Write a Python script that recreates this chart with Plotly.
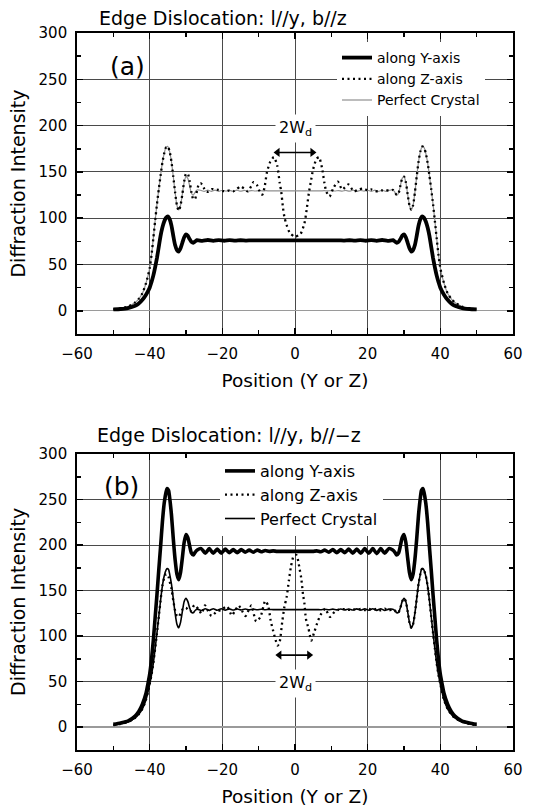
import plotly.graph_objects as go

W, H = 548, 810
FONT = "DejaVu Sans"

# ---------------- Panel (a): l//y, b//z ----------------
a_along_y_x = [-50, -48, -46, -44, -43, -42, -41, -40, -39.5, -39, -38.5, -38, -37.5, -37, -36.5, -36, -35.5, -35,
               -34.5, -34, -33.5, -33, -32.5, -32, -31.5, -31, -30.5, -30, -29.5, -29, -28.5, -28, -27.5, -27,
               -25.5, -24, -22.5, -21, -19.5, -18, -16.5, -15, -13.5, -12, -10, -5, 0, 5, 10, 12, 13.5, 15, 16.5,
               18, 19.5, 21, 22.5, 24, 25.5, 27, 27.5, 28, 28.5, 29, 29.5, 30, 30.5, 31, 31.5, 32, 32.5, 33, 33.5,
               34, 34.5, 35, 35.5, 36, 36.5, 37, 37.5, 38, 38.5, 39, 39.5, 40, 41, 42, 43, 44, 46, 48, 50]
a_along_y = [1.5, 2, 3, 5.5, 8, 12, 17.5, 25, 31, 38, 47, 57, 69, 81, 90, 96.5, 100.5, 102,
             99, 92, 81, 71, 65.5, 64, 67.5, 73.5, 79.5, 82.5, 81, 77.5, 74.5, 73.5, 74.8, 76.3,
             75.5, 76.5, 75.6, 76.4, 75.7, 76.3, 75.8, 76.2, 75.9, 76.1, 76, 76, 76, 76, 76, 76.1, 75.9, 76.2, 75.8,
             76.3, 75.7, 76.4, 75.6, 76.5, 75.5, 76.3, 74.8, 73.5, 74.5, 77.5, 81, 82.5, 79.5, 73.5, 67.5, 64, 65.5, 71, 81,
             92, 99, 102, 100.5, 96.5, 90, 81, 69, 57, 47, 38, 31, 25, 17.5, 12, 8, 5.5, 3, 2, 1.5]

a_along_z_x = [-50, -48, -46, -44, -43, -42, -41, -40, -39.5, -39, -38.5, -38, -37.5, -37, -36.5, -36, -35.5, -35,
               -34.5, -34, -33.5, -33, -32.5, -32, -31.5, -31, -30.5, -30, -29.5, -29, -28.5, -28, -27.5, -27,
               -26.5, -26, -25.5, -25, -24.5, -24, -23, -22, -21, -20, -19, -18, -17, -16, -15, -14, -13, -12,
               -11.4, -10.5, -9.5, -9, -8.4, -7.7, -6.8, -5.8, -4.9, -4.2, -3.8, -3.3, -2.9, -2.3, -1.4, 0, 1.5,
               2.6, 3.2, 3.8, 4.3, 5, 5.9, 6.6, 7.4, 8.1, 8.6, 9.5, 10.6, 11.8, 13, 14.7, 16.2, 17.5, 18.8, 20, 21,
               22, 23, 24, 25, 26, 27, 27.5, 28, 28.5, 29, 29.5, 30, 30.5, 31, 31.5, 32, 32.5, 33, 33.5, 34, 34.5,
               35, 35.5, 36, 36.5, 37, 37.5, 38, 38.5, 39, 39.5, 40, 41, 42, 43, 44, 46, 48, 50]
a_along_z = [1.5, 2.5, 4.5, 9, 13, 19, 30, 46, 60, 78, 97, 115, 131, 146, 160, 170, 176.5, 177.5,
             172, 161, 145, 128, 114, 108, 114, 126, 140, 148, 148, 140, 128, 120.5, 121, 129,
             136.5, 138, 136, 132, 129, 128.5, 131.5, 131, 130.5, 129.5, 129, 130, 129, 131.5, 134.5, 132, 129, 135,
             139, 136, 127, 125.5, 133, 150, 161, 166, 157, 138, 129, 111, 101, 92.5, 84, 80, 83,
             94.5, 109, 127, 138, 153, 164, 166, 155, 138, 129, 123.5, 133, 139.5, 131, 136.5, 129, 131, 132, 130, 131,
             129.5, 129, 130, 130.5, 129.5, 130.5, 128, 125, 127, 135, 143, 145, 139, 126, 114, 109, 114, 128, 145, 161, 172,
             177.5, 176.5, 170, 160, 146, 131, 115, 97, 78, 60, 46, 30, 19, 13, 9, 4.5, 2.5, 1.5]

a_perfect_x = [-50, -48, -46, -44, -43, -42, -41, -40, -39.5, -39, -38.5, -38, -37.5, -37, -36.5, -36, -35.5, -35,
               -34.5, -34, -33.5, -33, -32.5, -32, -31.5, -31, -30.5, -30, -29.5, -29, -28.5, -28, -27.5, -27,
               -26, -25, -24, -23, -22, -21, -20, -19, -18, -17, -16, -15, -14, -13, -12, -11, -10, -9, -8, -7, -6,
               0, 6, 7, 8, 9, 10, 11, 12, 13, 14, 15, 16, 17, 18, 19, 20, 21, 22, 23, 24, 25, 26,
               27, 27.5, 28, 28.5, 29, 29.5, 30, 30.5, 31, 31.5, 32, 32.5, 33, 33.5, 34, 34.5, 35, 35.5, 36, 36.5,
               37, 37.5, 38, 38.5, 39, 39.5, 40, 41, 42, 43, 44, 46, 48, 50]
a_perfect = [1.5, 2.5, 4.5, 9, 13, 19, 30, 46, 60, 78, 97, 115, 131, 146, 160, 170, 176.5, 177.5,
             172, 161, 145, 128, 114, 109, 114, 126, 139, 145, 143, 135, 127, 125, 128, 130.5,
             130.2, 129, 130.4, 129.1, 130.3, 129, 130.2, 129.2, 130.1, 129.1, 130.3, 129.2, 130, 129.3, 129.9, 129.4,
             129.8, 129.5, 129.7, 129.5, 129.6,
             129.6, 129.6, 129.5, 129.7, 129.5, 129.8, 129.4, 129.9, 129.3, 130, 129.2, 130.3, 129.1, 130.1, 129.2, 130.2,
             129, 130.3, 129.1, 130.4, 129, 130.2,
             130.5, 128, 125, 127, 135, 143, 145, 139, 126, 114, 109, 114, 128, 145, 161, 172, 177.5, 176.5, 170, 160,
             146, 131, 115, 97, 78, 60, 46, 30, 19, 13, 9, 4.5, 2.5, 1.5]

# ---------------- Panel (b): l//y, b//-z ----------------
b_along_y_x = [-50, -48, -46, -44, -43, -42, -41, -40.5, -40, -39.5, -39, -38.5, -38, -37.5, -37, -36.5, -36, -35.5,
               -35.2, -34.8, -34.5, -34, -33.5, -33, -32.5, -32, -31.5, -31, -30.5, -30, -29.5, -29, -28.5, -28,
               -27.5, -26.9, -25.8, -24.7, -23.6, -22.5, -21.4, -20.3, -19.2, -18.1, -17, -15.9, -14.8, -13.7,
               -12.6, -11.5, -10.4, -9.3, -8.2, -7.1, -6, -4.9, 0, 4.9, 6, 7.1, 8.2, 9.3, 10.4, 11.5, 12.6, 13.7,
               14.8, 15.9, 17, 18.1, 19.2, 20.3, 21.4, 22.5, 23.6, 24.7, 25.8, 26.9, 27.5, 28, 28.5, 29, 29.5, 30,
               30.5, 31, 31.5, 32, 32.5, 33, 33.5, 34, 34.5, 34.8, 35.2, 35.5, 36, 36.5, 37, 37.5, 38, 38.5, 39,
               39.5, 40, 40.5, 41, 42, 43, 44, 46, 48, 50]
b_along_y = [3, 4.5, 6.5, 12, 17, 25, 37, 47, 58, 74, 95, 120, 145, 172, 198, 225, 246, 258,
             262, 260, 252, 233, 207, 184, 168, 162, 170, 186, 203, 211.5, 208, 199, 191, 189,
             192, 194.5, 196, 191, 196, 191, 195.5, 191, 195.5, 191.5, 195, 191.5, 195, 192,
             194.5, 192, 194.5, 192.5, 194, 193, 193.5, 193, 193, 193, 193.5, 192.5, 194.5, 192, 195, 191.5, 195, 191.5,
             195.5, 191, 195.5, 191, 196, 191, 196, 190.5, 196, 191, 196, 194.5, 192, 189, 191, 199, 208, 211.5,
             203, 186, 170, 162, 168, 184, 207, 233, 252, 260, 262, 258, 246, 225, 198, 172, 145, 120, 95,
             74, 58, 47, 37, 25, 17, 12, 6.5, 4.5, 3]

b_perfect_x = [-50, -48, -46, -44, -43, -42, -41, -40.5, -40, -39.5, -39, -38.5, -38, -37.5, -37, -36.5, -36, -35.5,
               -35.2, -34.8, -34.5, -34, -33.5, -33, -32.5, -32, -31.5, -31, -30.5, -30, -29.5, -29, -28.5, -28,
               -27.5, -26.9, -25.8, -24.7, -23.6, -22.5, -21.4, -20.3, -19.2, -18.1, -17, -15.9, -14.8, -13.7,
               -12.6, -11.5, -10.4, -9.3, -8.2, -7.1, -6, 0, 6, 7.1, 8.2, 9.3, 10.4, 11.5, 12.6, 13.7,
               14.8, 15.9, 17, 18.1, 19.2, 20.3, 21.4, 22.5, 23.6, 24.7, 25.8, 26.9, 27.5, 28, 28.5, 29, 29.5, 30,
               30.5, 31, 31.5, 32, 32.5, 33, 33.5, 34, 34.5, 34.8, 35.2, 35.5, 36, 36.5, 37, 37.5, 38, 38.5, 39,
               39.5, 40, 40.5, 41, 42, 43, 44, 46, 48, 50]
b_perfect = [2, 3.5, 5.5, 10, 14, 20, 30, 38, 47, 57, 70, 86, 103, 121, 139, 155, 166, 172.5,
             174, 173, 168, 157, 141, 125, 113, 109, 115, 127, 138, 141.5, 138, 131, 126, 125.5,
             128, 129.5, 128, 130, 128.2, 130, 128.3, 129.9, 128.4, 129.8, 128.5, 129.7, 128.6, 129.6,
             128.7, 129.5, 128.8, 129.4, 128.9, 129.2, 129, 129, 129, 128.9, 129.4, 128.8, 129.5, 128.7, 129.6, 128.6,
             129.7, 128.5, 129.8, 128.4, 129.9, 128.3, 130, 128.2, 130, 128, 129.5, 129.5, 128, 125.5, 126, 131, 138, 141.5,
             138, 127, 115, 109, 113, 125, 141, 157, 168, 173, 174, 172.5, 166, 155, 139, 121, 103, 86, 70,
             57, 47, 38, 30, 20, 14, 10, 5.5, 3.5, 2]

b_along_z_x = [-50, -48, -46, -44, -43, -42, -41, -40.5, -40, -39.5, -39, -38.5, -38, -37.5, -37, -36.5, -36, -35.5,
               -35.2, -34.8, -34.5, -34, -33.5, -33, -32.5, -32, -31.5, -31, -30.5, -30, -29.5, -29, -28.5, -27.7,
               -26.5, -25.7, -24.8, -24, -23, -21.5, -20.4, -18.7, -17.4, -16.5, -15.5, -14.5, -13.6, -12.8, -12,
               -10.7, -9.5, -8.2, -7.4, -6.7, -6.1, -5.5, -4.8, -4.3, -3.5, -2.9, -2.3, -1.7, -1.1, -0.4, 0.4, 0.9,
               1.3, 1.7, 2.2, 2.6, 3, 3.7, 4.5, 5.2, 6.1, 7, 8.3, 9.6, 10.9, 12, 13.7, 14.8, 15.9, 17, 18.1, 19.2,
               20.3, 21.4, 22.5, 23.6, 24.7, 25.8, 26.9, 27.5, 28, 28.5, 29, 29.5, 30, 30.5, 31, 31.5, 32, 32.5,
               33, 33.5, 34, 34.5, 34.8, 35.2, 35.5, 36, 36.5, 37, 37.5, 38, 38.5, 39, 39.5, 40, 40.5, 41, 42, 43,
               44, 46, 48, 50]
b_along_z = [2, 3.5, 5.5, 10, 14, 20, 30, 38, 47, 57, 70, 86, 103, 121, 139, 155, 164, 168,
             168, 165, 160, 152, 139, 128, 122, 121, 125, 129, 131, 131, 129, 127, 128, 134,
             129, 124.5, 133.5, 128, 122, 127, 128.5, 132.5, 122.5, 128, 133.5, 127, 122, 128, 133.5,
             116, 121, 138.5, 133.5, 117, 107, 98, 89.5, 92, 116, 132.5, 142.5, 160.5, 176.5, 187.5, 189, 182,
             173, 164, 146, 135.5, 119, 108.5, 95, 103, 114, 123, 130, 121, 126.5, 129, 129.6, 128.6, 129.7, 128.5,
             129.8, 128.4, 129.9, 128.3, 130, 128.2, 130, 128, 129.5, 128, 125.5, 126, 131, 138, 141.5, 138, 127,
             115, 109, 113, 125, 141, 157, 168, 173, 174, 172.5, 166, 155, 139, 121, 103, 86, 70, 57, 47, 38, 30,
             20, 14, 10, 5.5, 3.5, 2]

x_ticks = [-60, -40, -20, 0, 20, 40, 60]
y_ticks = [0, 50, 100, 150, 200, 250, 300]
# 2W_d double arrows: x ends and level
arrow_a_x = [-4.8, 4.8]
arrow_a_y = [171, 171]
arrow_b_x = [-4.3, 3.9]
arrow_b_y = [79, 79]

fig = go.Figure()

# panel (a) traces
fig.add_trace(go.Scatter(x=a_perfect_x, y=a_perfect, mode="lines", name="Perfect Crystal",
                         line=dict(color="#8f8f8f", width=1.2, shape="spline", smoothing=0.6),
                         xaxis="x", yaxis="y", legend="legend", legendrank=3))
fig.add_trace(go.Scatter(x=a_along_z_x, y=a_along_z, mode="lines", name="along Z-axis",
                         line=dict(color="black", width=2.3, dash="2px,3.5px", shape="spline", smoothing=0.6),
                         xaxis="x", yaxis="y", legend="legend", legendrank=2))
fig.add_trace(go.Scatter(x=a_along_y_x, y=a_along_y, mode="lines", name="along Y-axis",
                         line=dict(color="black", width=3.8, shape="spline", smoothing=0.6),
                         xaxis="x", yaxis="y", legend="legend", legendrank=1))

# panel (b) traces
fig.add_trace(go.Scatter(x=b_along_z_x, y=b_along_z, mode="lines", name="along Z-axis",
                         line=dict(color="black", width=2.3, dash="2px,3.5px", shape="spline", smoothing=0.6),
                         xaxis="x2", yaxis="y2", legend="legend2", legendrank=2))
fig.add_trace(go.Scatter(x=b_perfect_x, y=b_perfect, mode="lines", name="Perfect Crystal",
                         line=dict(color="black", width=1.6, shape="spline", smoothing=0.6),
                         xaxis="x2", yaxis="y2", legend="legend2", legendrank=3))
fig.add_trace(go.Scatter(x=b_along_y_x, y=b_along_y, mode="lines", name="along Y-axis",
                         line=dict(color="black", width=3.6, shape="spline", smoothing=0.6),
                         xaxis="x2", yaxis="y2", legend="legend2", legendrank=1))

# double-headed 2W_d arrows
for ax_, ay_, xa, ya in ((arrow_a_x, arrow_a_y, "x", "y"), (arrow_b_x, arrow_b_y, "x2", "y2")):
    fig.add_trace(go.Scatter(x=ax_, y=ay_, mode="lines+markers", showlegend=False, hoverinfo="skip",
                             line=dict(color="black", width=1.6),
                             marker=dict(symbol=["triangle-left", "triangle-right"], size=8, color="black",
                                         line=dict(width=0)),
                             xaxis=xa, yaxis=ya))


def px_x(p):
    return p / W


def px_y(p):
    return 1 - p / H


xdom = [px_x(77), px_x(513)]
axis_common = dict(showline=True, linecolor="black", linewidth=1.8, mirror="allticks",
                   ticks="inside", ticklen=6, tickwidth=1.5, tickcolor="black",
                   showgrid=True, gridcolor="#4a4a4a", gridwidth=1,
                   tickfont=dict(family=FONT, size=15, color="black"), automargin=False)
xaxis_common = dict(axis_common, range=[-60, 60], tickvals=x_ticks, zeroline=False,
                    minor=dict(dtick=10, tick0=0, ticks="inside", ticklen=4, tickwidth=1.5, tickcolor="black",
                               showgrid=False),
                    ticklabelstandoff=5,
                    title=dict(text="Position (Y or Z)", standoff=12, font=dict(family=FONT, size=18.5)))
yaxis_common = dict(axis_common, range=[-25, 300], tickvals=y_ticks, zeroline=True, zerolinecolor="#9a9a9a",
                    zerolinewidth=1.2,
                    minor=dict(dtick=25, tick0=0, ticks="inside", ticklen=4, tickwidth=1.5, tickcolor="black",
                               showgrid=False),
                    ticklabelstandoff=5,
                    title=dict(text="Diffraction Intensity", standoff=8, font=dict(family=FONT, size=19)))

fig.update_layout(
    width=W, height=H,
    margin=dict(l=0, r=0, t=0, b=0),
    paper_bgcolor="white", plot_bgcolor="white",
    font=dict(family=FONT, color="black"),
    hovermode=False,
    xaxis=dict(xaxis_common, domain=xdom, anchor="y"),
    yaxis=dict(yaxis_common, domain=[px_y(334), px_y(33)], anchor="x"),
    xaxis2=dict(xaxis_common, domain=xdom, anchor="y2"),
    yaxis2=dict(yaxis_common, domain=[px_y(749.75), px_y(454)], anchor="x2"),
    legend=dict(x=px_x(337), y=px_y(42), xanchor="left", yanchor="top", bgcolor="white",
                font=dict(family=FONT, size=14, color="black"), tracegroupgap=0, itemwidth=30,
                traceorder="normal"),
    legend2=dict(x=px_x(220), y=px_y(454), xanchor="left", yanchor="top", bgcolor="white",
                 font=dict(family=FONT, size=16, color="black"), tracegroupgap=0, itemwidth=30,
                 traceorder="normal"),
    showlegend=True,
)

ann = []
# panel titles
ann.append(dict(text="Edge Dislocation: l//y, b//z", x=px_x(97), y=px_y(18), xref="paper", yref="paper",
                xanchor="left", yanchor="middle", showarrow=False, font=dict(family=FONT, size=19)))
ann.append(dict(text="Edge Dislocation: l//y, b//\u2212z", x=px_x(95), y=px_y(435), xref="paper", yref="paper",
                xanchor="left", yanchor="middle", showarrow=False, font=dict(family=FONT, size=19)))
# panel letters
ann.append(dict(text="(a)", x=px_x(127), y=px_y(67), xref="paper", yref="paper", xanchor="center",
                yanchor="middle", showarrow=False, font=dict(family=FONT, size=25)))
ann.append(dict(text="(b)", x=px_x(121), y=px_y(487), xref="paper", yref="paper", xanchor="center",
                yanchor="middle", showarrow=False, font=dict(family=FONT, size=25)))
# 2W_d labels
ann.append(dict(text="2W<sub>d</sub>", x=0, y=197, xref="x", yref="y", showarrow=False, bgcolor="white",
                borderpad=3, font=dict(family=FONT, size=16)))
ann.append(dict(text="2W<sub>d</sub>", x=0, y=48, xref="x2", yref="y2", showarrow=False, bgcolor="white",
                borderpad=3, font=dict(family=FONT, size=16)))
fig.update_layout(annotations=ann)

fig.write_html("out.html", config={"displayModeBar": False, "staticPlot": True},
               post_script="document.body.style.margin='0';document.body.style.padding='0';")
